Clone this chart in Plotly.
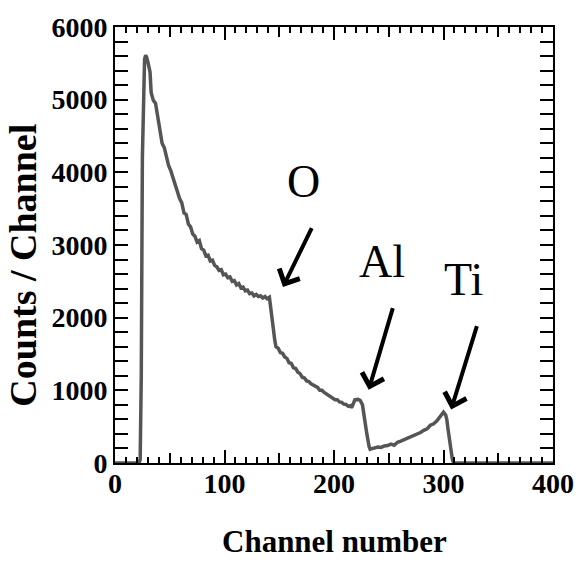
import plotly.graph_objects as go

channels = [0, 22, 23, 24, 25, 26, 27, 28, 29, 30, 31, 32, 33, 34, 35, 37, 39, 41, 43, 45, 47, 49,
            51, 53, 55, 57, 59, 61, 63, 65, 67, 69, 71, 73, 75, 77, 79, 81, 83, 85, 87, 89, 91,
            93, 95, 97, 99, 101, 103, 105, 107, 109, 111, 113, 115, 117, 119, 121, 123, 125, 127,
            129, 131, 133, 135, 137, 139, 141, 142, 143, 144, 145, 146, 147, 149, 151, 153, 155,
            157, 159, 161, 163, 165, 167, 169, 171, 173, 175, 177, 179, 181, 183, 185, 187, 189,
            191, 193, 195, 197, 199, 201, 203, 205, 207, 209, 211, 213, 215, 216, 217, 219, 222,
            224, 226, 228, 230, 232, 233, 234, 237, 240, 243, 246, 249, 252, 255, 258, 261, 264,
            267, 270, 273, 276, 279, 282, 285, 288, 291, 294, 297, 299, 300, 302, 303, 304, 305,
            306, 307, 308, 309, 310, 320, 400]
counts = [0, 0, 50, 1200, 4200, 5300, 5560, 5610, 5580, 5520, 5430, 5380, 5100, 5020, 4990, 4950,
          4760, 4640, 4400, 4340, 4200, 4090, 4020, 3930, 3810, 3750, 3640, 3580, 3440, 3420, 3290,
          3250, 3150, 3120, 3040, 3060, 2950, 2930, 2850, 2860, 2780, 2790, 2720, 2700, 2650, 2660,
          2590, 2600, 2550, 2560, 2500, 2510, 2450, 2470, 2410, 2420, 2370, 2380, 2330, 2340, 2300,
          2320, 2290, 2300, 2270, 2290, 2260, 2280, 2150, 2000, 1900, 1820, 1680, 1600, 1580, 1520,
          1510, 1460, 1440, 1380, 1370, 1310, 1300, 1250, 1230, 1180, 1170, 1130, 1120, 1090, 1070,
          1050, 1040, 1000, 1000, 970, 950, 940, 910, 900, 870, 870, 840, 835, 810, 805, 780, 790,
          760, 790, 870, 875, 860, 800, 560, 400, 230, 190, 195, 205, 220, 215, 235, 240, 260, 245,
          285, 300, 320, 340, 350, 380, 400, 420, 450, 470, 520, 540, 580, 640, 690, 700, 660, 600,
          480, 350, 250, 150, 60, 10, 0, 0, 0]

labels = ["O", "Al", "Ti"]
label_x = [172.0, 244.0, 318.5]
label_y = [3880, 2770, 2520]
arrow_tail_x = [180.3, 254.1, 330.9]
arrow_tail_y = [3252, 2152, 1904]
arrow_tip_x = [153.4, 231.7, 307.0]
arrow_tip_y = [2422, 1007, 737]

SERIF = "Liberation Serif"

fig = go.Figure()
fig.add_trace(go.Scatter(x=channels, y=counts, mode="lines",
                         line=dict(color="#555555", width=3.5), showlegend=False))
# helper trace for the medium-tick axis
fig.add_trace(go.Scatter(x=[0, 400], y=[0, 0], mode="lines", line=dict(width=0),
                         xaxis="x2", showlegend=False, hoverinfo="skip"))

axis_common = dict(showgrid=False, zeroline=False, showline=True, linecolor="black",
                   linewidth=2, ticks="inside", tickcolor="black", tickwidth=2,
                   mirror="allticks",
                   tickfont=dict(family=SERIF, size=28, color="black", weight="bold"))

fig.update_layout(
    width=586, height=562,
    margin=dict(l=115, r=25, t=18, b=99),
    plot_bgcolor="white", paper_bgcolor="white",
    xaxis=dict(range=[0, 400], tickvals=[0, 100, 200, 300, 400], ticklen=13,
               ticklabelstandoff=-6,
               minor=dict(dtick=10, ticklen=6, tickwidth=2, tickcolor="black", ticks="inside"),
               **axis_common),
    xaxis2=dict(range=[0, 400], overlaying="x", side="bottom", showgrid=False, zeroline=False,
                showline=False, ticks="inside", tickvals=[50, 150, 250, 350], ticklen=10,
                tickwidth=2, tickcolor="black", mirror="allticks", showticklabels=False),
    yaxis=dict(range=[0, 6000], tickvals=[0, 1000, 2000, 3000, 4000, 5000, 6000], ticklen=13,
               minor=dict(dtick=200, ticklen=6, tickwidth=2, tickcolor="black", ticks="inside"),
               **axis_common),
)

anns = [
    dict(text="Channel number", xref="paper", yref="paper", x=0.5, y=-0.18,
         xanchor="center", yanchor="middle", showarrow=False,
         font=dict(family=SERIF, size=31, color="black", weight="bold")),
    dict(text="Counts / Channel", xref="paper", yref="paper", x=-0.2096, y=0.453,
         xanchor="center", yanchor="middle", showarrow=False, textangle=-90,
         font=dict(family=SERIF, size=38, color="black", weight="bold")),
]
for t, lx, ly in zip(labels, label_x, label_y):
    anns.append(dict(text=t, x=lx, y=ly, xref="x", yref="y", showarrow=False,
                     xanchor="center", yanchor="middle",
                     font=dict(family=SERIF, size=46, color="black")))
for tx, ty, hx, hy in zip(arrow_tail_x, arrow_tail_y, arrow_tip_x, arrow_tip_y):
    anns.append(dict(text="", x=hx, y=hy, ax=tx, ay=ty, xref="x", yref="y",
                     axref="x", ayref="y", showarrow=True, arrowhead=4, arrowsize=1.1,
                     arrowwidth=4, arrowcolor="black", standoff=0))
fig.update_layout(annotations=anns)

fig.write_html("out.html")
